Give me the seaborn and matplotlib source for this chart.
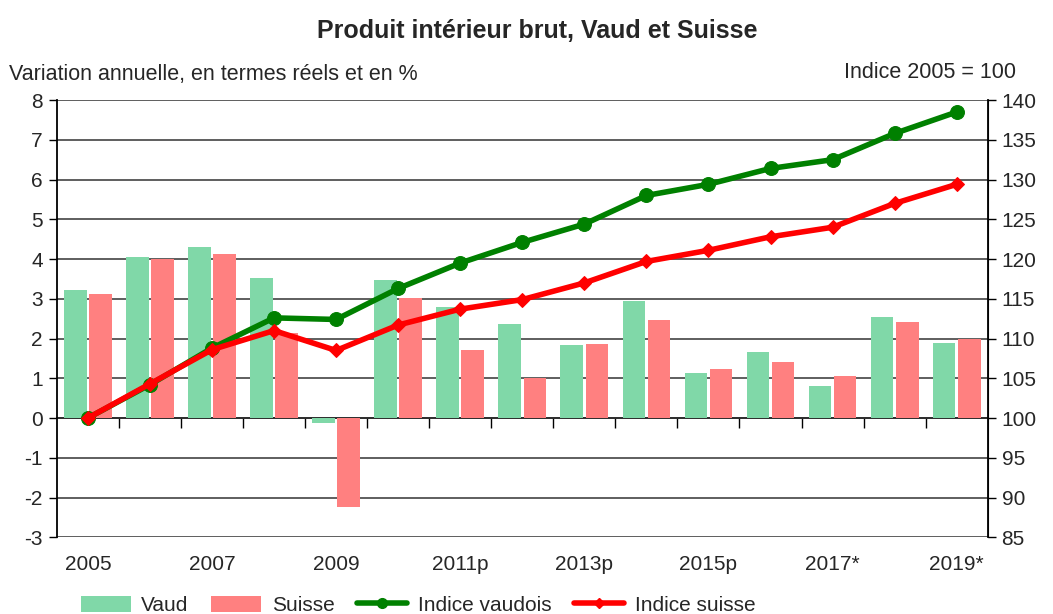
import numpy as np
import pandas as pd
import seaborn as sns
import matplotlib.pyplot as plt
from matplotlib.patches import Patch
from matplotlib.lines import Line2D

# Data
years = ["2005", "2006", "2007", "2008", "2009", "2010", "2011p", "2012p",
         "2013p", "2014", "2015p", "2016", "2017*", "2018", "2019*"]
vaud_growth = [3.23, 4.05, 4.30, 3.52, -0.12, 3.47, 2.80, 2.36, 1.83, 2.94,
               1.14, 1.67, 0.80, 2.54, 1.88]
suisse_growth = [3.12, 4.00, 4.12, 2.15, -2.23, 3.02, 1.72, 1.00, 1.86, 2.46,
                 1.24, 1.40, 1.06, 2.41, 2.00]
vaud_index = [100, 104.2, 108.8, 112.6, 112.4, 116.3, 119.5, 122.1, 124.4,
              128.0, 129.4, 131.4, 132.5, 135.8, 138.5]
suisse_index = [100, 104.3, 108.6, 111.0, 108.5, 111.7, 113.7, 114.9, 117.0,
                119.7, 121.1, 122.8, 124.0, 127.0, 129.4]
label_years = ["2005", "2007", "2009", "2011p", "2013p", "2015p", "2017*", "2019*"]

green_bar = "#80D8A8"
red_bar = "#FF8080"
green_line = "#008000"
red_line = "#FF0000"

sns.set_style("white")
plt.rcParams['font.family'] = ['Liberation Sans', 'DejaVu Sans']
plt.rcParams['axes.unicode_minus'] = False

df = pd.DataFrame({
    "annee": years * 2,
    "valeur": vaud_growth + suisse_growth,
    "serie": ["Vaud"] * len(years) + ["Suisse"] * len(years),
})

fig = plt.figure(figsize=(10.53, 6.14), dpi=100)
ax = fig.add_axes([0.054, 0.125, 0.884, 0.712])

sns.barplot(data=df, x="annee", y="valeur", hue="serie", ax=ax,
            palette=[green_bar, red_bar], saturation=1, width=0.81, gap=0.1,
            edgecolor="none", legend=False)

ax.set_ylim(-3, 8)
ax.set_xlim(-0.5, len(years) - 0.5)
ax.set_yticks(range(-3, 9))
ax.grid(axis="y", color="#333333", linewidth=1.1)
ax.set_axisbelow(True)
ax.set_xlabel("")
ax.set_ylabel("")
ax.tick_params(axis="y", labelsize=15, length=6, width=1, color="black",
               left=True, pad=4)
for s in ["top", "bottom"]:
    ax.spines[s].set_visible(False)
ax.spines["left"].set_color("black")
ax.spines["left"].set_linewidth(1.3)

# year labels under the chart
pos = np.arange(len(years))
ax.set_xticks(pos[::2])
ax.set_xticklabels(label_years, fontsize=15)
ax.tick_params(axis="x", length=0, pad=13)

# zero line with category separators
zero_frac = 3 / 11
sec = ax.secondary_xaxis(zero_frac)
sec.set_xticks(pos[:-1] + 0.5)
sec.set_xticklabels([])
sec.tick_params(axis="x", direction="out", length=7, width=1, color="black")
sec.spines["bottom"].set_color("black")
sec.spines["bottom"].set_linewidth(1.2)

# index lines on right axis
ax2 = ax.twinx()
sns.lineplot(x=pos, y=vaud_index, ax=ax2, color=green_line, linewidth=4,
             marker="o", markersize=10, markeredgecolor=green_line,
             label="Indice vaudois", legend=False)
sns.lineplot(x=pos, y=suisse_index, ax=ax2, color=red_line, linewidth=4,
             marker="D", markersize=7, markeredgecolor=red_line,
             label="Indice suisse", legend=False)
ax2.set_ylim(85, 140)
ax2.set_yticks(range(85, 141, 5))
ax2.set_ylabel("")
ax2.tick_params(axis="y", labelsize=15, length=6, width=1, color="black",
                right=True, pad=4)
ax2.spines["right"].set_color("black")
ax2.spines["right"].set_linewidth(1.3)
for s in ["top", "bottom", "left"]:
    ax2.spines[s].set_visible(False)
ax2.grid(False)

fig.text(0.51, 0.95, "Produit intérieur brut, Vaud et Suisse",
         ha="center", va="center", fontsize=18, fontweight="bold")
fig.text(0.009, 0.878, "Variation annuelle, en termes réels et en %",
         ha="left", va="center", fontsize=15.5)
fig.text(0.965, 0.882, "Indice 2005 = 100", ha="right", va="center", fontsize=15.5)

handles = [
    Patch(facecolor=green_bar, edgecolor="none"),
    Patch(facecolor=red_bar, edgecolor="none"),
    Line2D([], [], color=green_line, linewidth=4, marker="o", markersize=7),
    Line2D([], [], color=red_line, linewidth=4, marker="D", markersize=5),
]
labels = ["Vaud", "Suisse", "Indice vaudois", "Indice suisse"]
fig.legend(handles, labels, loc="center", bbox_to_anchor=(0.397, 0.014),
           ncol=4, frameon=False, fontsize=15, handlelength=2.4,
           handleheight=0.8, handletextpad=0.5, columnspacing=1.1)

fig.savefig("out.png", dpi=100)
